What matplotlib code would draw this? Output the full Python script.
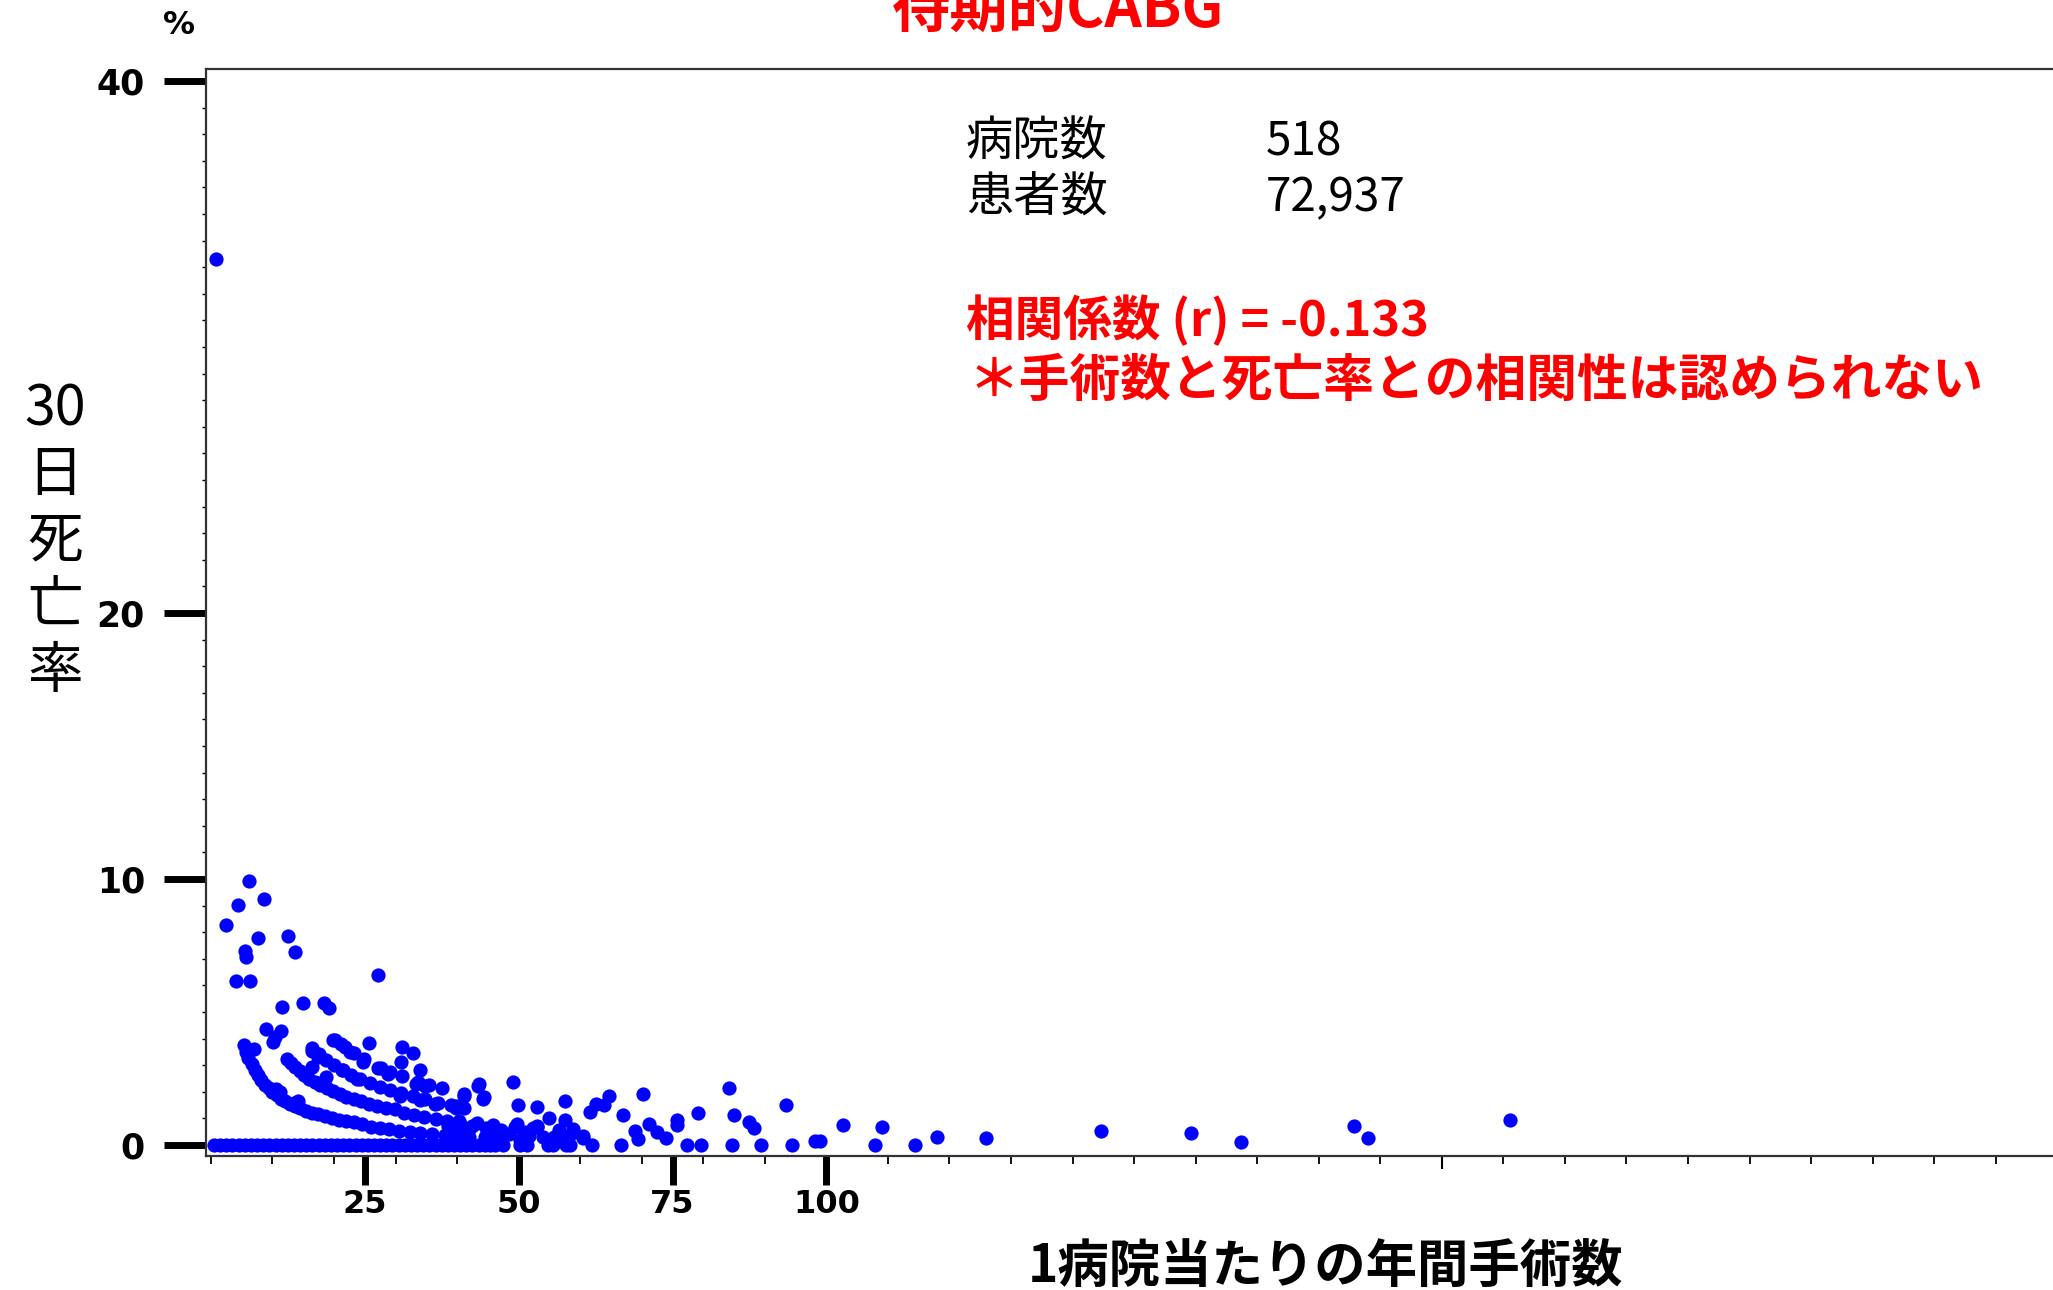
import numpy as np
import matplotlib
matplotlib.use("Agg")
import matplotlib.pyplot as plt

JP = ['Noto Sans CJK JP', 'DejaVu Sans']
BLUE = '#0000FF'
RED = '#FF0000'

# hospitals with no deaths (annual volume only)
zero_volume = [0.5, 1.5, 2.5, 3.5, 4.5, 5.5, 6.5, 7.5, 8.5, 9.5, 10.5, 11.5, 12.5,
               13.5, 14.5, 15.5, 16.5, 17.5, 18.5, 19.5, 20.5, 21.5, 22.5, 23.5,
               24.5, 25.5, 26.5, 27.5, 28.5, 29.5, 30.5, 31.5, 32.5, 33.5, 34.5,
               35.5, 36.5, 37.5, 38.5, 39.5, 40.5, 41.5, 42.5, 43.5, 44.5, 45.3,
               46.2, 47.5, 50.2, 51.3, 54.8, 55.5, 57.7, 58.3, 61.9, 66.6, 77.3,
               79.6, 84.7, 89.4, 94.4, 107.9, 114.4]

# hospitals with deaths: annual volume / 30-day mortality (%)
volume = [
    0.8, 2.4, 4.4, 6.2, 8.7, 7.7, 12.6, 13.7, 5.5, 5.7, 4.0, 6.4, 27.1,
    11.5, 14.9, 18.4, 19.2, 9.0, 11.4, 10.1, 10.4, 7.0,
    # lowest band
    5.3, 5.7, 6.1, 6.6, 7.1, 7.6, 8.2, 8.8, 9.4, 10.0, 10.7, 11.4, 12.1, 12.9,
    13.7, 14.5, 15.4, 16.4, 17.4, 18.5, 19.6, 20.8, 22.0, 23.3, 24.6, 26.0,
    27.5, 29.0, 30.6, 32.3, 34.0, 36.0, 38.0, 40.0, 42.0, 44.5, 47.0,
    # second band
    12.3, 13.0, 13.7, 14.4, 15.2, 16.0, 16.9, 17.8, 18.8, 19.8, 20.9, 22.0,
    23.2, 24.4, 25.7, 27.0, 28.4, 29.9, 31.4, 33.0, 34.7, 36.5, 38.4, 40.4,
    42.5, 44.7,
    # third band
    16.4, 17.5, 18.7, 20.0, 21.3, 22.7, 24.2, 25.8, 27.4, 29.1, 30.9, 32.8,
    34.8, 36.9, 39.0, 41.2,
    # fourth band
    20.2, 21.8, 23.2, 24.8, 27.7, 29.1, 31.0, 33.7, 35.4, 37.5,
    # scattered
    16.5, 17.4, 16.5, 19.8, 21.2, 22.6, 25.7, 24.7, 27.2, 28.8, 31.1, 32.8,
    30.9, 33.9, 18.7, 21.5, 23.7, 33.4, 34.8, 30.7, 33.9, 36.4, 39.9, 41.2,
    43.4, 44.2, 40.3, 10.5, 14.1, 11.2, 13.5,
    41.2, 44.3, 39.8, 43.6, 49.1, 49.9, 53.0, 57.6, 54.9, 57.6, 52.9, 58.9,
    61.6, 62.6, 64.6, 63.8, 66.9, 70.2, 68.9, 69.4, 71.2, 72.4, 73.9, 75.8,
    75.8, 79.2, 84.2, 85.0, 87.5, 88.2, 93.4, 102.7, 109.0, 98.1, 98.9,
    117.9, 126.0, 144.6, 159.3, 167.4, 185.8, 188.0, 211.1,
    49.7, 51.6, 60.5, 43.2, 45.9, 47.2, 44.8, 55.7, 58.6, 53.0, 49.4, 50.2,
    52.4, 60.5, 46.5, 48.5, 38.5, 40.5, 42.0, 56.5, 57.7, 54.0, 51.0, 46.0,
]
mortality = [
    33.3, 8.27, 9.02, 9.94, 9.24, 7.80, 7.86, 7.27, 7.31, 7.06, 6.18, 6.18, 6.41,
    5.20, 5.33, 5.36, 5.14, 4.35, 4.30, 3.88, 4.05, 3.60,
    3.77, 3.51, 3.28, 3.03, 2.82, 2.63, 2.44, 2.27, 2.13, 2.00, 1.87, 1.75, 1.65, 1.55,
    1.46, 1.38, 1.30, 1.22, 1.15, 1.08, 1.02, 0.96, 0.91, 0.86, 0.81, 0.69,
    0.64, 0.59, 0.53, 0.49, 0.45, 0.40, 0.37, 0.33, 0.31, 0.29, 0.27,
    3.25, 3.08, 2.92, 2.78, 2.63, 2.50, 2.37, 2.25, 2.13, 2.02, 1.91, 1.82,
    1.72, 1.64, 1.56, 1.48, 1.41, 1.34, 1.20, 1.12, 1.05, 0.97, 0.90, 0.78,
    0.72, 0.66,
    3.66, 3.43, 3.20, 3.00, 2.82, 2.64, 2.48, 2.33, 2.19, 2.06, 1.94, 1.83,
    1.72, 1.60, 1.50, 1.40,
    3.96, 3.67, 3.45, 3.23, 2.89, 2.75, 2.58, 2.37, 2.26, 2.13,
    3.54, 3.32, 2.94, 3.95, 3.80, 3.51, 3.82, 3.13, 2.88, 2.69, 3.70, 3.48,
    3.11, 2.84, 2.56, 2.82, 2.50, 2.29, 2.21, 1.84, 1.71, 1.56, 1.41, 1.84,
    2.22, 1.72, 0.91, 2.10, 1.67, 2.00, 1.60,
    1.91, 1.79, 1.47, 2.28, 2.38, 1.50, 1.42, 1.67, 1.00, 0.94, 0.72, 0.60,
    1.24, 1.56, 1.84, 1.52, 1.12, 1.93, 0.54, 0.22, 0.80, 0.48, 0.25, 0.96,
    0.74, 1.22, 2.13, 1.13, 0.86, 0.63, 1.49, 0.74, 0.69, 0.14, 0.14,
    0.30, 0.28, 0.53, 0.46, 0.10, 0.73, 0.28, 0.93,
    0.80, 0.35, 0.35, 0.82, 0.75, 0.57, 0.31, 0.31, 0.44, 0.69, 0.69, 0.19,
    0.63, 0.25, 0.45, 0.40, 0.70, 0.55, 0.60, 0.55, 0.20, 0.30, 0.50, 0.20,
]

n_hospitals = '518'
n_patients = '72,937'
corr_r = '-0.133'

fig = plt.figure(figsize=(20.53, 12.90), dpi=100)
ax = fig.add_axes([206 / 2053, 1 - 1156 / 1290, 1 - 206 / 2053, (1156 - 69) / 1290])

ax.scatter(zero_volume, [0.0] * len(zero_volume), s=105, color=BLUE, linewidths=0, zorder=3)
ax.scatter(volume, mortality, s=105, color=BLUE, linewidths=0, zorder=3)

ax.set_xlim(-0.8, 299.3)
ax.set_ylim(-0.41, 40.45)

for side in ['top', 'bottom', 'left']:
    ax.spines[side].set_color('#333333')
    ax.spines[side].set_linewidth(1.6)
ax.spines['right'].set_visible(False)

ax.set_xticks([25, 50, 75, 100, 200])
ax.set_xticklabels(['25', '50', '75', '100', ''], fontsize=23, fontweight='bold')
ax.set_xticks(np.arange(0, 300, 10), minor=True)
ax.tick_params(axis='x', which='major', length=21, width=5, pad=3, color='black')
ax.tick_params(axis='x', which='minor', length=6, width=1.3, color='black')
t200 = ax.xaxis.get_major_ticks()[4]
t200.tick1line.set_markersize(9.5)
t200.tick1line.set_markeredgewidth(1.5)

ax.set_yticks([0, 10, 20, 40])
ax.set_yticklabels(['0', '10', '20', '40'], fontsize=25, fontweight='bold')
ax.set_yticks(np.arange(0, 41, 1), minor=True)
ax.tick_params(axis='y', which='major', length=30, width=5, pad=14, color='black')
ax.tick_params(axis='y', which='minor', length=3, width=1.0, color='black')

# texts
fig.text(1058 / 2053, 1 - 27 / 1290, '待期的CABG', family=JP, fontsize=42,
         fontweight='bold', color=RED, ha='center', va='baseline')
fig.text(179 / 2053, 1 - 26 / 1290, '%', fontsize=23, fontweight='bold',
         ha='center', va='center')
fig.text(55 / 2053, 1 - 541 / 1290, '30\n日\n死\n亡\n率', family=JP, fontsize=40,
         ha='center', va='center', ma='center', linespacing=1.18)
fig.text(1325 / 2053, 1 - 1266 / 1290, '1病院当たりの年間手術数', family=JP,
         fontsize=37, fontweight='bold', ha='center', va='center')

fig.text(966 / 2053, 1 - 142 / 1290, '病院数', family=JP, fontsize=34, va='center')
fig.text(1266 / 2053, 1 - 142 / 1290, n_hospitals, family=JP, fontsize=33, va='center')
fig.text(966 / 2053, 1 - 198 / 1290, '患者数', family=JP, fontsize=34, va='center')
fig.text(1266 / 2053, 1 - 198 / 1290, n_patients, family=JP, fontsize=33, va='center')

fig.text(966 / 2053, 1 - 320 / 1290, '相関係数 (r) = ' + corr_r, family=JP,
         fontsize=35, fontweight='bold', color=RED, va='center')
fig.text(968 / 2053, 1 - 381 / 1290, '＊手術数と死亡率との相関性は認められない',
         family=JP, fontsize=36.5, fontweight='bold', color=RED, va='center')

fig.savefig('out.png', dpi=100)
